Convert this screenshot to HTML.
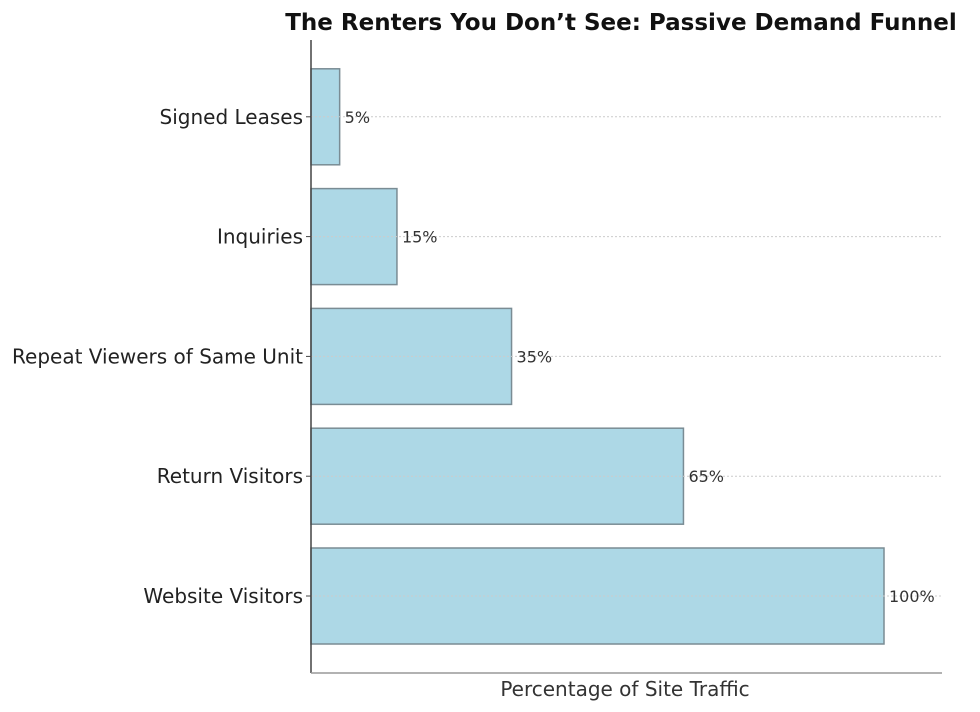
<!DOCTYPE html>
<html><head><meta charset="utf-8"><style>
html,body{margin:0;padding:0;background:#fff;}
svg{display:block;font-family:"DejaVu Sans","Liberation Sans",sans-serif;}
</style></head><body>
<svg id="chart" width="980" height="712" viewBox="0 0 980 712">
<text x="621" y="30" text-anchor="middle" font-size="23" font-weight="bold" fill="#111">The Renters You Don’t See: Passive Demand Funnel</text>
<g id="bars"></g>
<line x1="311" y1="40" x2="311" y2="673" stroke="#444" stroke-width="1.5"/>
<line x1="311" y1="673" x2="942" y2="673" stroke="#999" stroke-width="1.5"/>
<text x="625" y="696" text-anchor="middle" font-size="20" fill="#333">Percentage of Site Traffic</text>
</svg>
<script>
const categories = ["Website Visitors","Return Visitors","Repeat Viewers of Same Unit","Inquiries","Signed Leases"];
const values = [100,65,35,15,5];
const valueLabels = ["100%","65%","35%","15%","5%"];
const ns="http://www.w3.org/2000/svg";
const x0=311, pxPer=5.73;
function xScale(v){return x0+v*pxPer;}
function yCenter(i){return 596-i*119.8;}
const g=document.getElementById('bars');
categories.forEach((c,i)=>{
  const cy=yCenter(i);
  const grid=document.createElementNS(ns,'line');
  
  
  grid.setAttribute('x1',x0);grid.setAttribute('x2',942);grid.setAttribute('y1',cy);grid.setAttribute('y2',cy);
  grid.setAttribute('stroke','#ccc');grid.setAttribute('stroke-dasharray','2,2');grid.setAttribute('stroke-width','1');
  const r=document.createElementNS(ns,'rect');
  
  
  r.setAttribute('x',x0);r.setAttribute('y',cy-48);r.setAttribute('width',xScale(values[i])-x0);r.setAttribute('height',96);
  r.setAttribute('fill','#add8e6');r.setAttribute('stroke','#7a8c94');r.setAttribute('stroke-width','1.5');
  g.appendChild(r);
  g.appendChild(grid);
  const t=document.createElementNS(ns,'text');
  
  
  t.setAttribute('x',303);t.setAttribute('y',cy+7);t.setAttribute('text-anchor','end');t.setAttribute('font-size','20');t.setAttribute('fill','#222');
  t.textContent=c;g.appendChild(t);
  const tk=document.createElementNS(ns,'line');
  
  
  tk.setAttribute('x1',306);tk.setAttribute('x2',311);tk.setAttribute('y1',cy);tk.setAttribute('y2',cy);tk.setAttribute('stroke','#444');
  g.appendChild(tk);
  const v=document.createElementNS(ns,'text');
  
  
  v.setAttribute('x',xScale(values[i])+5);v.setAttribute('y',cy+6);v.setAttribute('font-size','16');v.setAttribute('fill','#333');
  v.textContent=valueLabels[i];g.appendChild(v);
});
</script>
</body></html>
